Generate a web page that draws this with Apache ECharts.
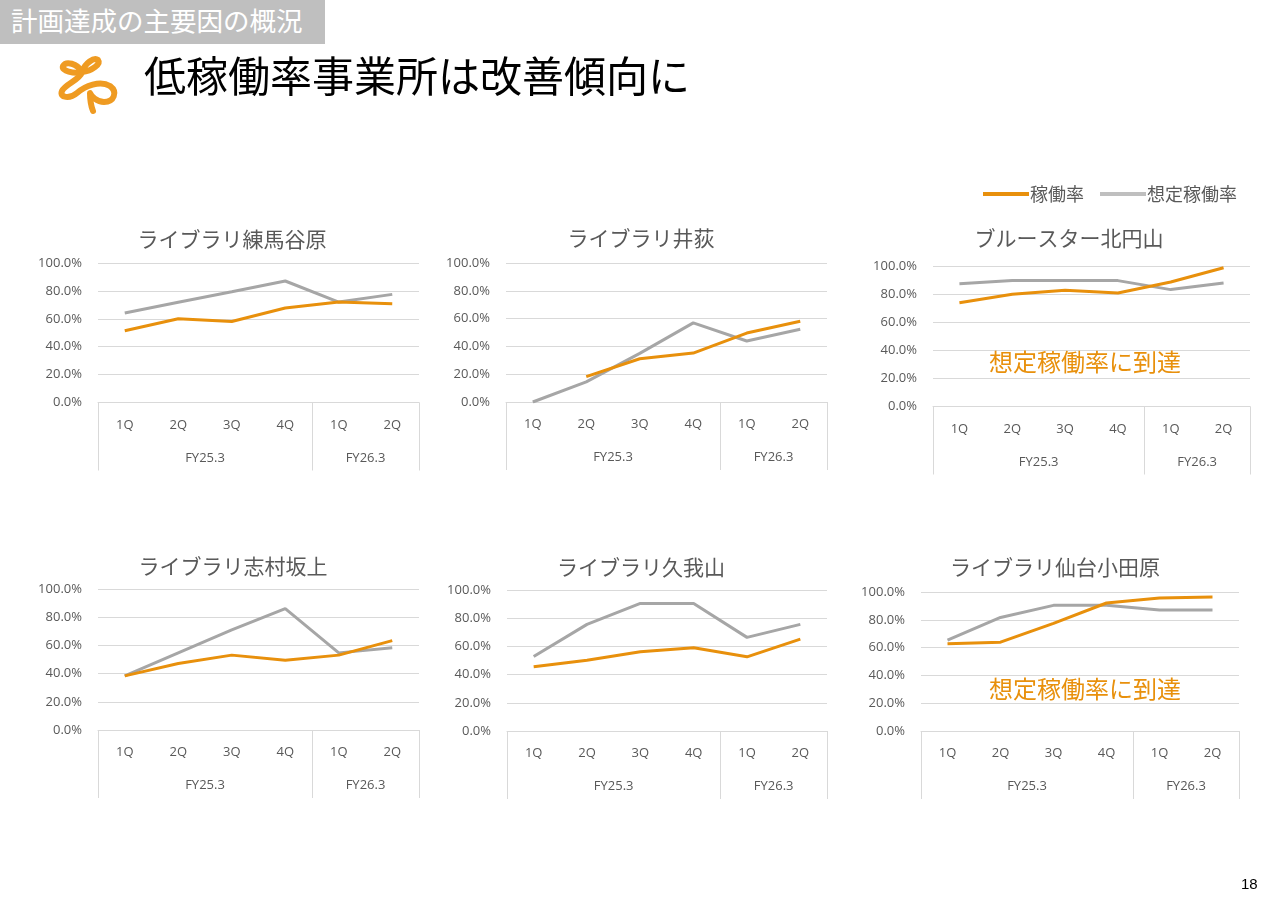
<!DOCTYPE html>
<html>
<head>
<meta charset="utf-8">
<script src="https://cdn.jsdelivr.net/npm/echarts@6/dist/echarts.min.js"></script>
<style>
html,body{margin:0;padding:0;background:#fff;width:1280px;height:904px;overflow:hidden;}
#wrap{position:relative;width:1280px;height:904px;}
#chart{position:absolute;left:0;top:0;width:1280px;height:904px;}
#tag{position:absolute;left:0;top:0;width:325px;height:44px;background:#BFBFBF;color:#fff;font-family:"Noto Sans CJK JP",sans-serif;font-size:26.5px;line-height:40px;padding-left:11px;box-sizing:border-box;white-space:nowrap;overflow:hidden;}
#head{position:absolute;left:144px;top:48px;font-family:"Noto Sans CJK JP",sans-serif;font-size:42px;line-height:52px;color:#000;white-space:nowrap;}
#logo{position:absolute;left:50px;top:50px;}
#page{position:absolute;left:1241px;top:875px;font-family:"Liberation Sans",sans-serif;font-size:15px;color:#000;}
</style>
</head>
<body>
<div id="wrap">
<div id="chart"></div>
<div id="tag">計画達成の主要因の概況</div>
<svg id="logo" width="75" height="65" viewBox="0 0 75 65">
<g fill="none" stroke="#EF9B22" stroke-width="6" stroke-linecap="round" stroke-linejoin="round">
<path d="M32 22 C27 13 16 11 13 16 C11 21 24 24 32 22"/>
<path d="M32 22 C35 13 44 7 48 10 C51 14 42 21 32 22"/>
<path d="M32 22 C30 30 15 34 12 41 C9 48 20 49 27 43 C35 36 50 30 60 36 C68 42 64 52 54 52 C47 52 41 46 40 43 C40 50 41 56 43 61"/>
</g>
</svg>
<div id="head">低稼働率事業所は改善傾向に</div>
<div id="page">18</div>
</div>
<script>
const quarters = ['1Q','2Q','3Q','4Q','1Q','2Q'];
const fyLabels = {2:'FY25.3', 5:'FY26.3'};
const yTicks = [0,20,40,60,80,100];

const titles = ['ライブラリ練馬谷原','ライブラリ井荻','ブルースター北円山','ライブラリ志村坂上','ライブラリ久我山','ライブラリ仙台小田原'];

const actual_nerima = [51.4, 60.0, 58.1, 67.7, 72.0, 70.8];
const plan_nerima   = [64.1, 71.8, 79.4, 87.1, 72.0, 77.5];
const actual_iogi   = [null, 18.3, 31.1, 35.2, 49.6, 58.1];
const plan_iogi     = [0.0, 14.5, 35.0, 56.9, 43.9, 52.3];
const actual_kitamaruyama = [73.9, 79.9, 82.7, 80.8, 88.6, 98.8];
const plan_kitamaruyama   = [87.4, 89.6, 89.6, 89.6, 83.2, 87.9];
const actual_shimura = [38.4, 47.2, 53.1, 49.5, 53.1, 63.4];
const plan_shimura   = [38.4, 54.7, 71.0, 86.1, 54.7, 58.3];
const actual_kugayama = [45.5, 50.2, 56.2, 59.0, 52.6, 65.2];
const plan_kugayama   = [52.8, 75.6, 90.5, 90.5, 66.4, 75.6];
const actual_sendai = [62.7, 63.9, 77.4, 92.1, 95.7, 96.4];
const plan_sendai   = [65.4, 81.7, 90.4, 90.4, 87.0, 87.0];

const actuals = [actual_nerima, actual_iogi, actual_kitamaruyama, actual_shimura, actual_kugayama, actual_sendai];
const plans = [plan_nerima, plan_iogi, plan_kitamaruyama, plan_shimura, plan_kugayama, plan_sendai];

const reachedText = '想定稼働率に到達';

const ORANGE = '#E8900C';
const GRAY = '#A6A6A6';
const TXT = '#595959';
const LINEC = '#D9D9D9';
const FONT = '"Open Sans","Noto Sans CJK JP",sans-serif';
const CJK = '"Noto Sans CJK JP",sans-serif';

const grids = [
  {left:98, top:263, width:321, height:139.5},
  {left:506, top:263, width:321, height:139},
  {left:933, top:266, width:317, height:140.5},
  {left:98, top:589, width:321, height:141},
  {left:507, top:590, width:320, height:141},
  {left:921, top:592, width:318, height:139}
];
const titlePos = [
  {x:232, y:240}, {x:641, y:239}, {x:1069, y:239},
  {x:233, y:567}, {x:641, y:568}, {x:1055, y:568}
];

const option = {
  animation:false,
  backgroundColor:'#fff',
  legend:{
    top:180, right:38,
    itemWidth:46, itemHeight:4, itemGap:16,
    icon:'rect',
    textStyle:{color:TXT, fontSize:18, fontFamily:CJK, padding:[0,0,0,-4]},
    data:[{name:'稼働率', itemStyle:{color:ORANGE}}, {name:'想定稼働率', itemStyle:{color:'#BFBFBF'}}]
  },
  title:[],
  grid:[],
  xAxis:[],
  yAxis:[],
  series:[]
};

grids.forEach((g, i) => {
  option.grid.push(Object.assign({containLabel:false}, g));
  option.title.push({
    text:titles[i], left:titlePos[i].x - 5, top:titlePos[i].y - 5 - 11, textAlign:'center',
    textStyle:{color:TXT, fontSize:21, fontWeight:'normal', fontFamily:CJK}
  });
  option.xAxis.push({
    type:'category', gridIndex:i, data:quarters, boundaryGap:true,
    axisLine:{show:true, lineStyle:{color:LINEC, width:1}},
    axisTick:{show:true, length:68, lineStyle:{color:LINEC, width:1},
      interval:function(idx){ return idx === 0 || idx === 4; }},
    axisLabel:{show:true, interval:0, margin:16, color:TXT, fontSize:13, fontFamily:FONT}
  });
  option.xAxis.push({
    type:'value', gridIndex:i, position:'bottom', min:0, max:6, interval:1,
    axisLine:{show:false}, axisTick:{show:false}, splitLine:{show:false},
    axisLabel:{show:true, margin:49, color:TXT, fontSize:13, fontFamily:FONT,
      showMinLabel:true, showMaxLabel:true,
      formatter:function(v){ return fyLabels[v] || ''; }}
  });
  option.yAxis.push({
    type:'value', gridIndex:i, min:yTicks[0], max:yTicks[yTicks.length-1], interval:20,
    axisLine:{show:false}, axisTick:{show:false},
    splitLine:{show:true, lineStyle:{color:LINEC, width:1}},
    axisLabel:{margin:16, color:TXT, fontSize:13, fontFamily:FONT,
      formatter:function(v){ return v.toFixed(1) + '%'; }}
  });
  option.series.push({
    name:'想定稼働率', type:'line', xAxisIndex:i*2, yAxisIndex:i, data:plans[i],
    symbol:'none', lineStyle:{color:GRAY, width:3}, itemStyle:{color:'#BFBFBF'}, z:2
  });
  option.series.push({
    name:'稼働率', type:'line', xAxisIndex:i*2, yAxisIndex:i, data:actuals[i],
    symbol:'none', connectNulls:false, lineStyle:{color:ORANGE, width:3}, itemStyle:{color:ORANGE}, z:3
  });
});

[{x:1085, y:363}, {x:1085, y:690}].forEach(p => {
  option.title.push({
    text:reachedText, left:p.x - 5, top:p.y - 5 - 13, textAlign:'center',
    textStyle:{color:ORANGE, fontSize:24, fontWeight:'normal', fontFamily:CJK}
  });
});

const chart = echarts.init(document.getElementById('chart'), null, {renderer:'canvas'});
chart.setOption(option);
</script>
</body>
</html>
